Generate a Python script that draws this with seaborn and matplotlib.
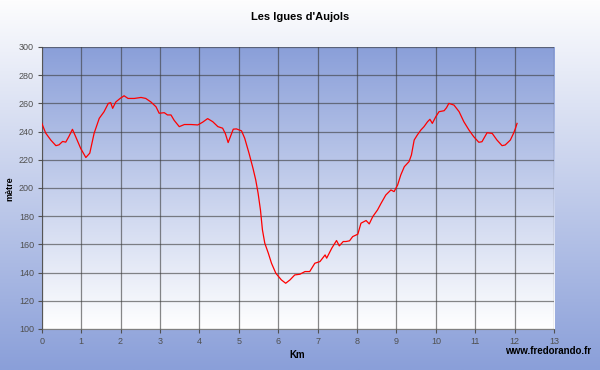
import numpy as np
import pandas as pd
import matplotlib
matplotlib.use("Agg")
import matplotlib.pyplot as plt
from matplotlib.colors import LinearSegmentedColormap
import seaborn as sns

# profile (km, metres)
km = [0.0, 0.1, 0.23, 0.36, 0.44, 0.53, 0.61, 0.69, 0.78, 0.86, 0.99, 1.12, 1.22,
      1.33, 1.46, 1.58, 1.69, 1.75, 1.8, 1.88, 1.99, 2.09, 2.19, 2.35, 2.52, 2.64,
      2.77, 2.9, 2.98, 3.11, 3.19, 3.28, 3.36, 3.49, 3.62, 3.79, 3.96, 4.08, 4.21,
      4.34, 4.47, 4.59, 4.66, 4.73, 4.86, 4.94, 5.07, 5.15, 5.26, 5.36, 5.43, 5.49,
      5.55, 5.6, 5.66, 5.75, 5.83, 5.94, 6.08, 6.19, 6.3, 6.42, 6.55, 6.68, 6.8,
      6.93, 7.06, 7.19, 7.23, 7.36, 7.48, 7.55, 7.65, 7.72, 7.81, 7.89, 8.02, 8.1,
      8.23, 8.31, 8.4, 8.52, 8.61, 8.73, 8.86, 8.94, 9.03, 9.11, 9.2, 9.32, 9.38,
      9.45, 9.53, 9.62, 9.7, 9.79, 9.85, 9.91, 10.0, 10.08, 10.21, 10.27, 10.33,
      10.46, 10.59, 10.71, 10.84, 10.96, 11.09, 11.17, 11.3, 11.43, 11.55, 11.68,
      11.76, 11.89, 11.97, 12.02, 12.06]
alt = [246, 239, 234, 230, 230.6, 233, 232.5, 236.5, 241.6, 236.5, 228, 221.6, 224.7,
       238.8, 249.4, 254, 260, 260.5, 256.5, 261, 263.5, 265.4, 263.5, 263.5, 264.2, 263.5,
       261, 257.6, 253, 253.4, 251.8, 251.8, 248, 243.5, 245, 245, 244.7, 246.6, 249.2,
       247, 243.5, 242.4, 238.5, 232.2, 241.7, 241.9, 240.5, 235.3, 224.6, 214, 205.7, 196.3,
       184.4, 170.3, 160.8, 153.7, 146.6, 139.5, 134.8, 132.4, 134.8, 138.3, 138.8, 140.7, 140.7,
       146.6, 147.8, 152.5, 150.2, 157.3, 162.7, 158.9, 162, 162, 162.5, 165.5, 167.2, 175,
       176.9, 174.5, 179.7, 184.4, 189.1, 195, 198.6, 197.4, 202.1, 209.2, 215.1, 218.7, 223.4,
       234, 237.6, 241.1, 243.5, 247, 248.7, 245.8, 250.6, 254.1, 254.8, 256.9, 260,
       258.8, 254.1, 247, 241.1, 236.4, 232.4, 232.8, 239.2, 238.7, 234, 230,
       230.5, 234, 238.7, 242.3, 245.8]

x_ticks = list(range(0, 14))
y_ticks = list(range(100, 301, 20))

df = pd.DataFrame({"Km": km, "metre": alt})

fig = plt.figure(figsize=(6, 3.7), dpi=100)

# background of the whole figure: white at top, blue at bottom
bg = fig.add_axes([0, 0, 1, 1], zorder=-10)
bg.axis("off")
fig_cmap = LinearSegmentedColormap.from_list("figbg", ["#fdfdfe", "#8a9fd9"])
bg.imshow(np.linspace(0, 1, 256).reshape(-1, 1), aspect="auto", cmap=fig_cmap,
          extent=[0, 1, 1, 0])

ax = fig.add_axes([0.0695, 0.111, 0.854, 0.762])
ax_cmap = LinearSegmentedColormap.from_list("axbg", ["#8a9fd9", "#ffffff"])
ax.imshow(np.linspace(0, 1, 256).reshape(-1, 1), aspect="auto", cmap=ax_cmap,
          extent=[0, 13, 100, 300], zorder=0)

sns.lineplot(data=df, x="Km", y="metre", color="#ff0000", linewidth=0.9, ax=ax, zorder=3)

ax.set_xlim(0, 13)
ax.set_ylim(100, 300)
ax.set_xticks(x_ticks)
ax.set_yticks(y_ticks)
ax.grid(True, color="#3a3a3a", linewidth=0.9, alpha=0.6, zorder=1)
ax.set_axisbelow(False)
for s in ["top", "right"]:
    ax.spines[s].set_visible(False)
for s in ["left", "bottom"]:
    ax.spines[s].set_color("#808080")
ax.tick_params(labelsize=6.5, colors="#505050", length=3, width=0.8, pad=2.5)
for lbl in ax.get_xticklabels() + ax.get_yticklabels():
    lbl.set_fontfamily("Liberation Sans")
ax.set_xlabel("")
ax.set_ylabel("")

fig.text(0.5, 0.953, "Les Igues d'Aujols", ha="center", va="center", fontsize=8,
         fontweight="bold", family="Liberation Sans")
fig.text(0.017, 0.49, "mètre", rotation=90, ha="center", va="center", fontsize=6.5,
         fontweight="bold", family="Liberation Sans")
fig.text(0.495, 0.04, "Km", ha="center", va="center", fontsize=7,
         fontweight="bold", family="Liberation Sans")
fig.text(0.985, 0.05, "www.fredorando.fr", ha="right", va="center", fontsize=7,
         fontweight="bold", family="Liberation Sans")

fig.savefig("out.png", dpi=100)
